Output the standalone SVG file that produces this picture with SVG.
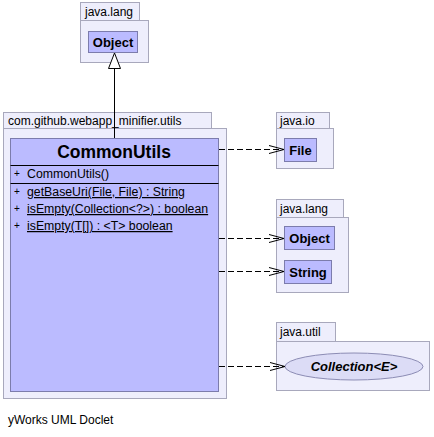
<svg xmlns="http://www.w3.org/2000/svg" width="434" height="437" viewBox="0 0 434 437">
<style>
.pkg{fill:#eeeefc;stroke:#a8a8bc;stroke-width:1}
.cls{fill:#bbbbff;stroke:#7c7cac;stroke-width:1}
.ptxt{font-family:"Liberation Sans",Arial,sans-serif;font-size:12px;fill:#000}
.ctxt{font-family:"Liberation Sans",Arial,sans-serif;font-size:13px;font-weight:bold;fill:#000}
.mtxt{font-family:"Liberation Sans",Arial,sans-serif;font-size:12.3px;fill:#000}
.dep{fill:none;stroke:#000;stroke-width:1;stroke-dasharray:6,3}
.head{fill:none;stroke:#000;stroke-width:1}
</style>
<rect width="434" height="437" fill="#fff"/>
<g id="pkg-java-lang-top">
<rect class="pkg" x="80.5" y="2.5" width="59" height="18"/>
<rect class="pkg" x="80.5" y="20.5" width="68" height="42"/>
<text class="ptxt" x="85" y="16">java.lang</text>
</g>
<g id="Object-top">
<rect class="cls" x="88.5" y="31.5" width="49" height="21"/>
<text class="ctxt" x="113" y="47" text-anchor="middle">Object</text>
</g>
<g id="pkg-utils">
<rect class="pkg" x="3.5" y="112.5" width="208" height="16"/>
<rect class="pkg" x="3.5" y="128.5" width="223" height="270"/>
<text class="ptxt" x="8" y="125">com.github.webapp_minifier.utils</text>
</g>
<g id="CommonUtils">
<rect class="cls" x="10.5" y="138.5" width="208" height="253"/>
<line x1="10.5" y1="165.5" x2="218.5" y2="165.5" stroke="#000"/>
<line x1="10.5" y1="183.5" x2="218.5" y2="183.5" stroke="#000"/>
<text class="ctxt" x="114" y="158" text-anchor="middle" style="font-size:17.5px">CommonUtils</text>
<text class="mtxt" x="14" y="177" style="font-size:10px">+</text>
<text class="mtxt" x="27" y="178">CommonUtils()</text>
<text class="mtxt" x="14" y="195" style="font-size:10px">+</text>
<text class="mtxt" x="27" y="196" text-decoration="underline">getBaseUri(File, File) : String</text>
<text class="mtxt" x="14" y="212" style="font-size:10px">+</text>
<text class="mtxt" x="27" y="213" text-decoration="underline">isEmpty(Collection&lt;?&gt;) : boolean</text>
<text class="mtxt" x="14" y="229" style="font-size:10px">+</text>
<text class="mtxt" x="27" y="230" text-decoration="underline">isEmpty(T[]) : &lt;T&gt; boolean</text>
</g>
<g id="pkg-java-io">
<rect class="pkg" x="276.5" y="112.5" width="53" height="16"/>
<rect class="pkg" x="276.5" y="128.5" width="57" height="40"/>
<text class="ptxt" x="280" y="125">java.io</text>
</g>
<g id="File">
<rect class="cls" x="284.5" y="138.5" width="32" height="23"/>
<text class="ctxt" x="300.5" y="155" text-anchor="middle">File</text>
</g>
<g id="pkg-java-lang">
<rect class="pkg" x="276.5" y="199.5" width="67" height="18"/>
<rect class="pkg" x="276.5" y="217.5" width="72" height="75"/>
<text class="ptxt" x="280" y="213">java.lang</text>
</g>
<g id="Object">
<rect class="cls" x="284.5" y="226.5" width="50" height="23"/>
<text class="ctxt" x="309.5" y="243" text-anchor="middle">Object</text>
</g>
<g id="String">
<rect class="cls" x="284.5" y="260.5" width="47" height="23"/>
<text class="ctxt" x="308" y="277" text-anchor="middle">String</text>
</g>
<g id="pkg-java-util">
<rect class="pkg" x="276.5" y="322.5" width="59" height="19"/>
<rect class="pkg" x="276.5" y="341.5" width="153" height="49"/>
<text class="ptxt" x="280" y="336">java.util</text>
</g>
<g id="Collection">
<ellipse cx="354" cy="366.5" rx="69" ry="13.5" fill="#dcdcf6" stroke="#8c8cb4"/>
<text class="ctxt" x="354" y="371" text-anchor="middle" font-style="italic">Collection&lt;E&gt;</text>
</g>
<g id="connectors">
<line x1="114.5" y1="138" x2="114.5" y2="68" stroke="#000"/>
<polygon points="114.5,53 108.5,68.5 120.5,68.5" fill="#fff" stroke="#000"/>
<line class="dep" x1="219" y1="149.5" x2="284" y2="149.5"/>
<polyline class="head" points="269,145.5 284,149.5 269,153.5"/>
<line class="dep" x1="219" y1="238.5" x2="284" y2="238.5"/>
<polyline class="head" points="269,234.5 284,238.5 269,242.5"/>
<line class="dep" x1="219" y1="271.5" x2="284" y2="271.5"/>
<polyline class="head" points="269,267.5 284,271.5 269,275.5"/>
<line class="dep" x1="219" y1="366.5" x2="285" y2="366.5"/>
<polyline class="head" points="270,362.5 285,366.5 270,370.5"/>
</g>
<text class="ptxt" x="8" y="424">yWorks UML Doclet</text>
</svg>
